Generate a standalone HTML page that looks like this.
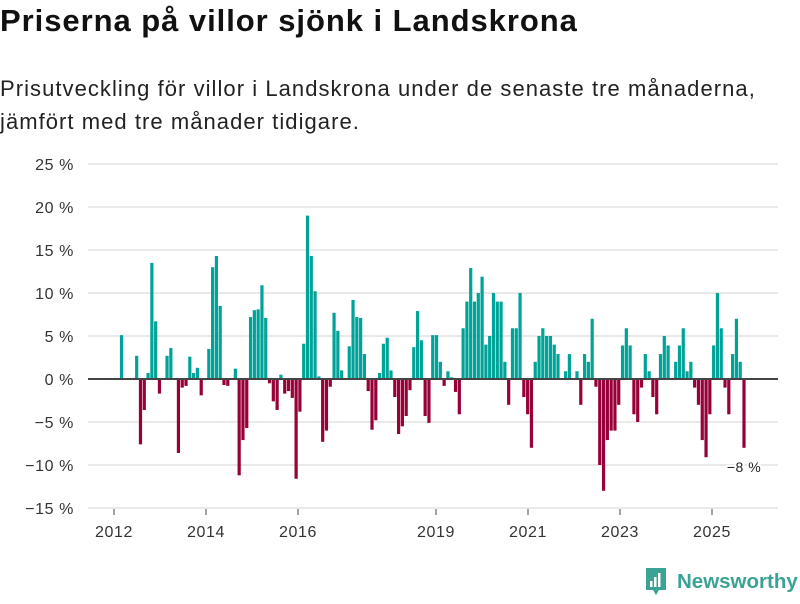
<!DOCTYPE html>
<html><head><meta charset="utf-8">
<style>
body{margin:0;background:#fff;width:800px;height:600px;overflow:hidden;font-family:"Liberation Sans","DejaVu Sans",sans-serif;}
#title{position:absolute;left:0;top:3px;font-size:31px;font-weight:bold;color:#111;letter-spacing:0.95px;}
#sub{position:absolute;left:0;top:72px;font-size:22px;line-height:33px;color:#222;letter-spacing:1.05px;}
svg{position:absolute;left:0;top:0;}
</style></head>
<body>
<div id="title">Priserna på villor sjönk i Landskrona</div>
<div id="sub">Prisutveckling för villor i Landskrona under de senaste tre månaderna,<br>jämfört med tre månader tidigare.</div>
<svg id="chart" width="800" height="600"></svg>
<script>
const values = [5.1,0,0,0,2.7,-7.6,-3.6,0.7,13.5,6.7,-1.7,0,2.7,3.6,0,-8.6,-1.0,-0.8,2.6,0.7,1.3,-1.9,0,3.5,13.0,14.3,8.5,-0.7,-0.8,0,1.2,-11.2,-7.1,-5.7,7.2,8.0,8.1,10.9,7.1,-0.5,-2.6,-3.6,0.5,-1.7,-1.4,-2.2,-11.6,-3.8,4.1,19.0,14.3,10.2,0.3,-7.3,-6.0,
-0.9,7.7,5.6,1.0,0,3.8,9.2,7.2,7.1,2.9,-1.4,-5.9,-4.8,0.7,4.1,4.8,1.0,-2.1,-6.4,-5.5,-4.3,-1.3,3.7,7.9,4.5,-4.3,-5.1,5.1,5.1,2.0,-0.8,0.9,0.2,-1.5,-4.1,5.9,9.0,12.9,9.0,10.0,11.9,4.0,5.0,10.0,9.0,9.0,2.0,-3.0,5.9,5.9,10.0,-2.1,-4.1,-8.0,
2.0,5.0,5.9,5.0,5.0,4.0,2.9,0,0.9,2.9,0,0.9,-3.0,2.9,2.0,7.0,-0.9,-10.0,-13.0,-7.1,-6.0,-6.0,-3.0,3.9,5.9,3.9,-4.1,-5.0,-1.0,2.9,0.9,-2.1,-4.1,2.9,5.0,3.9,0,2.0,3.9,5.9,0.9,2.0,-1.0,-3.0,-7.1,-9.1,-4.1,3.9,10.0,5.9,-1.0,-4.1,2.9,7.0,2.0,-8.0];
const yTicks = [25,20,15,10,5,0,-5,-10,-15];
const xTickYears = [2012,2014,2016,2019,2021,2023,2025];
const lastLabel = "−8 %";

const svg = document.getElementById('chart');
const NS = 'http://www.w3.org/2000/svg';
const y = v => 379 - v * 8.6;
const xYear = yr => 114 + (yr - 2012) * 46;
const x = i => 121.5 + i * (744 - 121.5) / (values.length - 1);
function mk(tag, attrs){const e=document.createElementNS(NS,tag);for(const k in attrs)e.setAttribute(k,attrs[k]);svg.appendChild(e);return e;}

yTicks.forEach(t=>{
  if(t!==0){const g=mk('line',{x1:88,x2:778,y1:y(t),y2:y(t),stroke:'#e2e2e2','stroke-width':1.5});
  
  }
  const tx=mk('text',{x:74,y:y(t)+6,'text-anchor':'end','font-size':16,fill:'#333','letter-spacing':0.6});
  tx.textContent=(t<0?'−'+(-t):t)+' %';
  
  
});
values.forEach((v,i)=>{
  if(v===0)return;
  const r=mk('rect',{x:x(i)-1.6,width:3.2,y:Math.min(y(v),y(0)),height:Math.abs(y(v)-y(0)),fill:v>0?'#00a398':'#970038'});
  
  
});
const zl=mk('line',{x1:88,x2:778,y1:379,y2:379,stroke:'#444','stroke-width':2});


xTickYears.forEach(yr=>{
  const l=mk('line',{x1:xYear(yr),x2:xYear(yr),y1:509,y2:515,stroke:'#444','stroke-width':1});
  
  
  const t=mk('text',{x:xYear(yr),y:537,'text-anchor':'middle','font-size':16,fill:'#333','letter-spacing':0.6});
  t.textContent=yr;
  
  
});
const ann=mk('text',{x:744,y:472,'text-anchor':'middle','font-size':14,fill:'#222',stroke:'#fff','stroke-width':4,'paint-order':'stroke','letter-spacing':0.5});
ann.textContent=lastLabel;


</script>
<svg width="160" height="40" style="left:642px;top:564px">
<path d="M4 4h20v22h-7l-3 5-3-5H4z" fill="#3aa395"/>
<rect x="8" y="17" width="2.5" height="6" fill="#fff"/><rect x="12" y="13" width="2.5" height="10" fill="#fff"/><rect x="16" y="9" width="2.5" height="14" fill="#fff"/>
<text x="35" y="24" font-size="20.5" font-weight="bold" fill="#3aa395">Newsworthy</text>
</svg>
</body></html>
